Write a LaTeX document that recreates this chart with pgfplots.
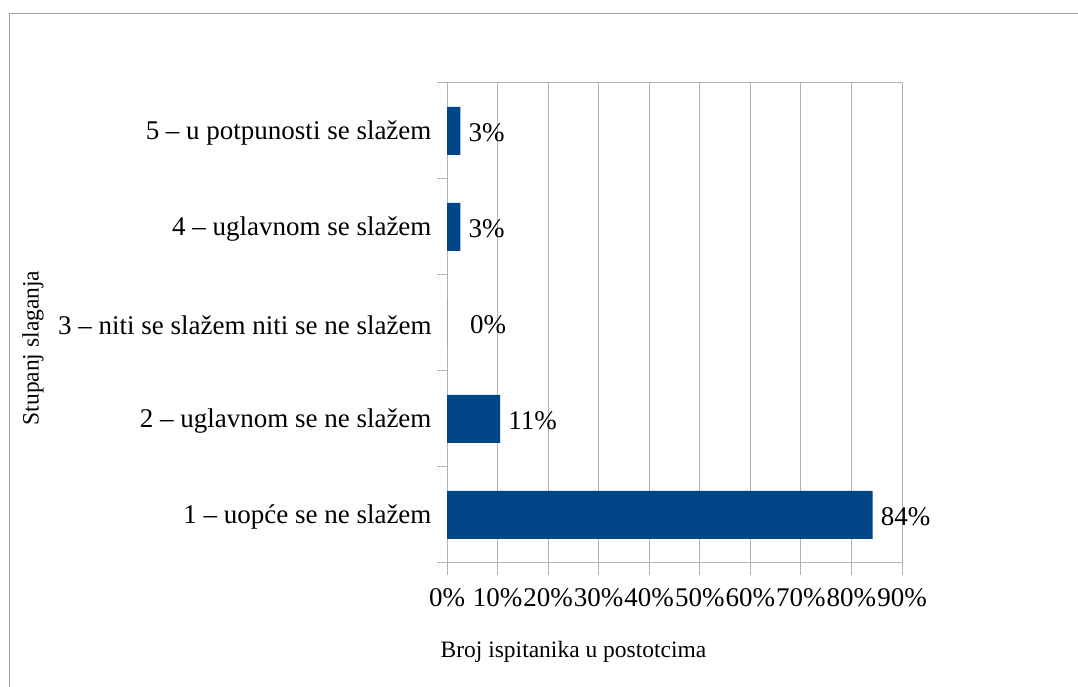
\documentclass[border=0pt]{standalone}
\usepackage{pgfplots}
\pgfplotsset{compat=1.18}
\usepackage{fontspec}
\setmainfont{Liberation Serif}
\definecolor{barblue}{HTML}{004586}
\definecolor{gridgray}{HTML}{B3B3B3}
\definecolor{framegray}{HTML}{A0A0A0}

\begin{document}
\begin{tikzpicture}[x=1bp, y=1bp]
\path[use as bounding box, fill=white] (0,0) rectangle (1078,687);
% outer chart frame (only left and top edges are visible)
\draw[framegray, line width=1.2bp] (9.5,0) -- (9.5,673.5) -- (1078,673.5);

\begin{axis}[
    at={(447bp,124bp)}, anchor=south west,
    scale only axis,
    width=455bp, height=480bp,
    xbar, bar width=48bp,
    xmin=0, xmax=90,
    ymin=0.5, ymax=5.5,
    xtick={0,10,...,90},
    xticklabel={\pgfmathprintnumber{\tick}\%},
    /pgf/number format/assume math mode=true,
    ytick={1,2,3,4,5},
    yticklabels={1 – uopće se ne slažem, 2 – uglavnom se ne slažem,
        3 – niti se slažem niti se ne slažem, 4 – uglavnom se slažem,
        5 – u potpunosti se slažem},
    minor ytick={0.5,1.5,...,5.5},
    xtick pos=bottom, ytick pos=left,
    major tick length=0pt,
    minor tick length=10bp,
    tick align=outside,
    extra x ticks={0,10,...,90},
    extra x tick labels={},
    extra x tick style={major tick length=12bp, grid=none},
    xmajorgrids, grid style={gridgray, line width=1bp},
    axis line style={gridgray, line width=1bp},
    every tick/.style={gridgray, line width=1bp},
    tick label style={font=\fontsize{27bp}{30bp}\selectfont, text=black},
    xticklabel style={yshift=-22bp},
    yticklabel style={xshift=-12bp, yshift=-2bp},
    xlabel={Broj ispitanika u postotcima},
    ylabel={Stupanj slaganja},
    label style={font=\fontsize{23.5bp}{27bp}\selectfont},
    xlabel style={at={(axis description cs:0.278,-0.185)}, anchor=center},
    ylabel style={at={(axis description cs:-0.91,0.448)}, anchor=center, rotate=0},
    nodes near coords,
    point meta=explicit symbolic,
    every node near coord/.append style={font=\fontsize{27bp}{30bp}\selectfont,
        anchor=west, inner sep=0pt, xshift=8bp, yshift=-1.5bp, text=black},
    coordinate style/.condition={\coordindex==2}{xshift=15bp},
]
\addplot[fill=barblue, draw=none] coordinates {
    (84.21,1) [84\%]
    (10.53,2) [11\%]
    (0,3)     [0\%]
    (2.63,4)  [3\%]
    (2.63,5)  [3\%]
};
\end{axis}
\end{tikzpicture}
\end{document}
